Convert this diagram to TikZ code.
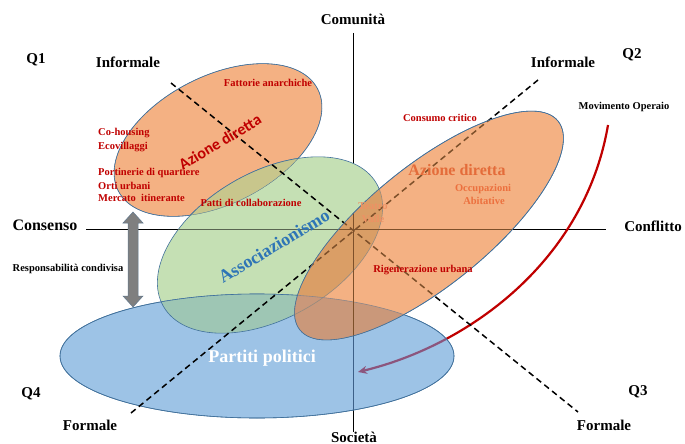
\documentclass[tikz,border=0pt]{standalone}
\usepackage{fontspec}
\setmainfont{Liberation Serif}
\newfontfamily\carlitofont{Carlito}
\usetikzlibrary{shapes.geometric,arrows.meta}
\definecolor{orng}{RGB}{244,177,131}
\definecolor{grn}{RGB}{197,224,180}
\definecolor{grnov}{RGB}{200,198,140}
\definecolor{blu}{RGB}{157,195,230}
\definecolor{tealov}{RGB}{158,198,180}
\definecolor{orgrn}{RGB}{218,158,102}
\definecolor{orblu}{RGB}{202,152,122}
\definecolor{brownln}{RGB}{125,80,42}
\definecolor{edgeblue}{RGB}{65,113,156}
\definecolor{dred}{RGB}{192,0,0}
\definecolor{assoc}{RGB}{46,117,182}
\definecolor{purp}{RGB}{140,85,125}
\definecolor{axblu}{RGB}{60,95,135}
\definecolor{ador}{RGB}{228,108,58}
\definecolor{occ}{RGB}{236,112,62}
\definecolor{teat}{RGB}{238,145,100}
\definecolor{grayarr}{RGB}{127,127,127}
\begin{document}
\begin{tikzpicture}[x=1pt,y=1pt,
  blob/.style={ellipse, draw=edgeblue, line width=0.6pt, inner sep=0pt},
  lbl/.style={font=\fontsize{15}{17}\selectfont\bfseries, inner sep=0pt},
  smlbl/.style={font=\fontsize{10.5}{12}\selectfont\bfseries, inner sep=0pt},
  redlbl/.style={font=\fontsize{10.5}{12}\selectfont\bfseries, text=dred, inner sep=0pt},
  dashline/.style={dash pattern=on 6pt off 4pt, line width=1.5pt},
  axisline/.style={line width=0.9pt},
  movarrow/.style={line width=2.2pt, -{Stealth[length=9pt,width=8pt]}},
  outl/.style={draw=edgeblue, line width=0.6pt},
]
\fill[white] (0,0) rectangle (685,-444);
\useasboundingbox (0,0) rectangle (685,-444);

% named coordinates
\coordinate (vtop) at (353,-33);
\coordinate (vbot) at (353,-432);
\coordinate (hl) at (86,-229);
\coordinate (hr) at (606,-229);
\coordinate (dA1) at (171,-83);
\coordinate (dA2) at (578,-412);
\coordinate (dB1) at (131,-413);
\coordinate (dB2) at (538,-80);
\coordinate (mvs) at (608,-125);
\coordinate (mve) at (358,-372);

% axes
\draw[axisline] (vtop) -- (vbot);
\draw[axisline] (hl) -- (hr);

% Movimento Operaio arrow
\draw[dred, movarrow] (mvs) .. controls (585,-260) and (470,-345) .. (mve);

% left orange
\node[blob, fill=orng, rotate=27, minimum width=224pt, minimum height=128pt] (azL) at (218,-140) {};
% green
\node[blob, fill=grn] [rotate=30, minimum width=246pt, minimum height=146pt] (assocE) at (270,-245) {};
% green over orange overlap
\begin{scope}
\clip[rotate around={27:(218,-140)}] (218,-140) ellipse [x radius=112, y radius=64];
\fill[grnov, rotate around={30:(270,-245)}] (270,-245) ellipse [x radius=123, y radius=73];
\draw[outl, rotate around={27:(218,-140)}] (218,-140) ellipse [x radius=112, y radius=64];
\draw[outl, rotate around={30:(270,-245)}] (270,-245) ellipse [x radius=123, y radius=73];
\end{scope}
% horizontal axis seen through green
\begin{scope}
\clip[rotate around={30:(270,-245)}] (270,-245) ellipse [x radius=123, y radius=73];
\draw[axisline, draw=black!55!grn] (hl) -- (hr);
\end{scope}

% blue
\node[blob, fill=blu, minimum width=394pt, minimum height=124pt] (partE) at (257,-356) {};
\begin{scope}
\clip (257,-356) ellipse [x radius=197, y radius=62];
\fill[tealov, rotate around={30:(270,-245)}] (270,-245) ellipse [x radius=123, y radius=73];
\draw[outl, rotate around={30:(270,-245)}] (270,-245) ellipse [x radius=123, y radius=73];
\draw[purp, movarrow] (mvs) .. controls (585,-260) and (470,-345) .. (mve);
\draw[axblu, axisline] (vtop) -- (vbot);
\end{scope}
\draw[outl] (257,-356) ellipse [x radius=197, y radius=62];

% dashed diagonals
\draw[dashline] (dA1) -- (dA2);
\draw[dashline] (dB1) -- (dB2);

% right orange, with what shows through it
\node[blob, fill=orng, rotate=39, minimum width=332pt, minimum height=120pt] (azR) at (429,-225.5) {};
\begin{scope}
\clip[rotate around={39:(429,-225.5)}] (429,-225.5) ellipse [x radius=166, y radius=60];
\fill[orgrn, rotate around={30:(270,-245)}] (270,-245) ellipse [x radius=123, y radius=73];
\fill[orblu] (257,-356) ellipse [x radius=197, y radius=62];
\draw[line width=0.6pt, draw=edgeblue!45!orgrn, rotate around={30:(270,-245)}] (270,-245) ellipse [x radius=123, y radius=73];
\draw[line width=0.6pt, draw=edgeblue!45!orblu] (257,-356) ellipse [x radius=197, y radius=62];
\draw[axisline, draw=brownln] (vtop) -- (vbot);
\draw[axisline, draw=brownln] (hl) -- (hr);
\draw[dashline, draw=brownln] (dA1) -- (dA2);
\draw[dashline, draw=brownln] (dB1) -- (dB2);
\end{scope}
\draw[outl, rotate around={39:(429,-225.5)}] (429,-225.5) ellipse [x radius=166, y radius=60];

% gray double arrow
\draw[fill=grayarr, draw=edgeblue!50!gray, line width=0.5pt]
  (133,-212) -- (143,-223) -- (138,-223) -- (138,-296) -- (143,-296) -- (133,-307)
  -- (123,-296) -- (128,-296) -- (128,-223) -- (123,-223) -- cycle;

% black labels
\node[lbl] (comunita) at (353,-19) {Comunità};
\node[lbl] (societa) at (354,-437) {Società};
\node[lbl] (infL) at (128,-62) {Informale};
\node[lbl] (infR) at (563,-62) {Informale};
\node[lbl] (forL) at (90,-425) {Formale};
\node[lbl] (forR) at (604,-425) {Formale};
\node[lbl] (q1) at (36,-60) {Q1};
\node[lbl] (q2) at (632,-55) {Q2};
\node[lbl] (q3) at (638,-392) {Q3};
\node[lbl] (q4) at (31,-394) {Q4};
\node[lbl, font=\fontsize{16}{18}\selectfont\bfseries] (consenso) at (45,-225) {Consenso};
\node[lbl] (conflitto) at (653,-226) {Conflitto};
\node[smlbl] (resp) at (68,-269) {Responsabilità condivisa};
\node[smlbl] (movop) at (624,-107) {Movimento Operaio};

% red labels
\node[redlbl] (fatt) at (268,-83) {Fattorie anarchiche};
\node[redlbl, anchor=west] (cohous) at (98,-133) {Co-housing};
\node[redlbl, anchor=west] (ecov) at (98,-147) {Ecovillaggi};
\node[redlbl, anchor=west] (port) at (98,-173) {Portinerie di quartiere};
\node[redlbl, anchor=west] (orti) at (98,-186) {Orti urbani};
\node[redlbl, anchor=west] (merc) at (98,-198) {Mercato\ \ itinerante};
\node[redlbl] (patti) at (251,-203) {Patti di collaborazione};
\node[redlbl] (consumo) at (440,-118) {Consumo critico};
\node[redlbl] (rigen) at (423,-270) {Rigenerazione urbana};
\node[redlbl, text=occ] (occup) at (483,-189) {Occupazioni};
\node[redlbl, text=occ] (abit) at (484,-201) {Abitative};
\node[redlbl, text=teat] (teatro) at (373,-206) {Teatro};
\node[redlbl, text=teat] (valle) at (373,-219) {Valle};

% big labels
\node[inner sep=0pt, text=dred, font=\carlitofont\fontsize{16}{18}\selectfont\bfseries, rotate=31] (azLt) at (220,-142) {Azione diretta};
\node[inner sep=0pt, text=ador, font=\fontsize{16}{18}\selectfont\bfseries] (azRt) at (457,-170) {Azione diretta};
\node[inner sep=0pt, text=assoc, font=\fontsize{18}{20}\selectfont\bfseries, rotate=31] (assoct) at (274,-246) {Associazionismo};
\node[inner sep=0pt, text=white, font=\fontsize{18}{20}\selectfont\bfseries] (partt) at (262,-358) {Partiti politici};
\end{tikzpicture}
\end{document}
